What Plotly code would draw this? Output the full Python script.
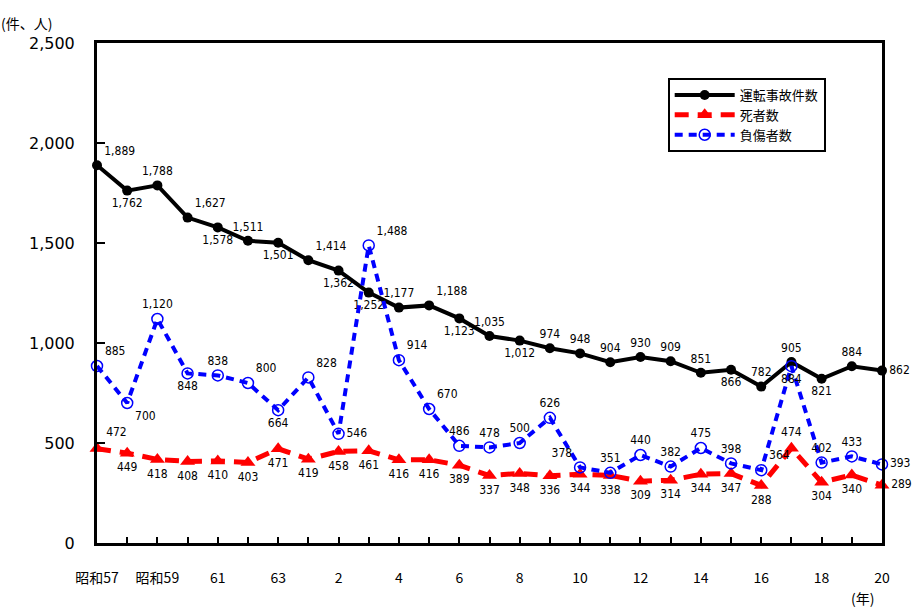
import plotly.graph_objects as go

# 昭和57年(1982)～平成20年(2008)
years = list(range(1982, 2009))

accidents = [1889, 1762, 1788, 1627, 1578, 1511, 1501, 1414, 1362, 1252,
             1177, 1188, 1123, 1035, 1012, 974, 948, 904, 930, 909,
             851, 866, 782, 905, 821, 884, 862]
deaths = [472, 449, 418, 408, 410, 403, 471, 419, 458, 461,
          416, 416, 389, 337, 348, 336, 344, 338, 309, 314,
          344, 347, 288, 474, 304, 340, 289]
injured = [885, 700, 1120, 848, 838, 800, 664, 828, 546, 1488,
           914, 670, 486, 478, 500, 626, 378, 351, 440, 382,
           475, 398, 364, 884, 402, 433, 393]

tick_text = ["昭和57", "", "昭和59", "", "61", "", "63", "", "2", "", "4", "", "6", "",
             "8", "", "10", "", "12", "", "14", "", "16", "", "18", "", "20"]
y_ticks = [0, 500, 1000, 1500, 2000, 2500]

names = ["運転事故件数", "死者数", "負傷者数"]

# label placement for each point
pos_acc = ["top right", "bottom center", "top center", "top right", "bottom center",
           "top center", "bottom center", "top right", "bottom center", "bottom center",
           "top center", "top right", "bottom center", "top center", "bottom center",
           "top center", "top center", "top center", "top center", "top center",
           "top center", "bottom center", "top center", "top center", "bottom center",
           "top center", "middle right"]
pos_dead = ["top right"] + ["bottom center"] * 22 \
           + ["top center", "bottom center", "bottom center", "middle right"]
pos_inj = ["top right", "bottom right", "top center", "bottom center", "top center",
           "top right", "bottom center", "top right", "middle right", "top right",
           "top right", "top right", "top center", "top center", "top center",
           "top center", "top left", "top center", "top center", "top center",
           "top center", "top center", "top right", "bottom center", "top center",
           "top center", "middle right"]

label_font = dict(family="Liberation Sans Narrow, DejaVu Sans Condensed, Arial, sans-serif",
                  size=12, color="black")


def fmt(v):
    return f"{v:,}"


fig = go.Figure()

fig.add_trace(go.Scatter(
    x=years, y=accidents, name=names[0], mode="lines+markers+text",
    line=dict(color="black", width=4),
    marker=dict(symbol="circle", size=10, color="black"),
    text=[fmt(v) for v in accidents], textposition=pos_acc, textfont=label_font,
    cliponaxis=False,
))
fig.add_trace(go.Scatter(
    x=years, y=deaths, name=names[1], mode="lines+markers+text",
    line=dict(color="#ff0000", width=5, dash="14px,9px"),
    marker=dict(symbol="triangle-up", size=13, color="#ff0000"),
    text=[fmt(v) for v in deaths], textposition=pos_dead, textfont=label_font,
    cliponaxis=False,
))
fig.add_trace(go.Scatter(
    x=years, y=injured, name=names[2], mode="lines+markers+text",
    line=dict(color="#0000ff", width=4, dash="8px,6px"),
    marker=dict(symbol="circle-open", size=11, color="#0000ff",
                line=dict(width=1.5, color="#3355ff")),
    text=[fmt(v) for v in injured], textposition=pos_inj, textfont=label_font,
    cliponaxis=False,
))

fig.update_layout(
    width=924, height=608,
    margin=dict(l=97, r=42, t=43, b=65),
    paper_bgcolor="white", plot_bgcolor="white",
    font=dict(family="Noto Sans CJK JP, sans-serif", color="black"),
    showlegend=True,
    legend=dict(x=0.727, y=0.93, xanchor="left", yanchor="top",
                bordercolor="black", borderwidth=2, bgcolor="white",
                font=dict(size=13, family="Noto Sans CJK JP, sans-serif"),
                tracegroupgap=2, itemwidth=60),
    annotations=[
        dict(text="(件、人)", xref="paper", yref="paper", x=-0.09, y=1.0,
             yshift=20, xanchor="center", yanchor="middle", showarrow=False,
             font=dict(size=14, family="Noto Sans CJK JP, sans-serif")),
        dict(text="(年)", xref="paper", yref="paper", x=0.975, y=0, yshift=-55,
             xanchor="center", yanchor="middle", showarrow=False,
             font=dict(size=14, family="Noto Sans CJK JP, sans-serif")),
    ],
)

fig.update_xaxes(
    range=[1982, 2008], tickvals=years, ticktext=tick_text,
    ticks="inside", ticklen=6, tickwidth=1.5, tickcolor="black",
    showline=True, linecolor="black", linewidth=3, mirror=True,
    showgrid=False, zeroline=False, ticklabelstandoff=20,
    tickfont=dict(size=14, family="Noto Sans CJK JP, sans-serif"),
)
fig.update_yaxes(
    range=[0, 2500], tickvals=y_ticks, ticktext=[fmt(v) for v in y_ticks],
    ticks="inside", ticklen=8, tickwidth=1.5, tickcolor="black",
    showline=True, linecolor="black", linewidth=3, mirror=True,
    showgrid=False, zeroline=False, ticklabelstandoff=16,
    tickfont=dict(size=16, family="DejaVu Sans, sans-serif"),
)

fig.write_html("out.html")
